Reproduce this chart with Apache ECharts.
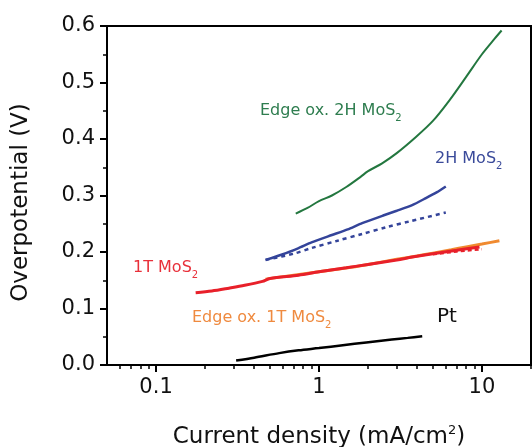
<!DOCTYPE html>
<html>
<head>
<meta charset="utf-8">
<script src="https://cdn.jsdelivr.net/npm/echarts@6/dist/echarts.min.js"></script>
<style>html,body{margin:0;padding:0;background:#fff}#c{width:532px;height:447px}</style>
</head>
<body>
<div id="c"></div>
<script>
// ---- data (x: current density mA/cm^2, y: overpotential V) ----
const edge2H = [[0.72,0.268],[0.85,0.278],[1.0,0.29],[1.2,0.30],[1.47,0.315],[1.8,0.333],[2.0,0.343],[2.44,0.357],[3.0,0.375],[3.95,0.404],[5.0,0.432],[6.3,0.468],[8.0,0.51],[10.0,0.55],[12.0,0.578],[13.2,0.592]];
const mos2H = [[0.47,0.186],[0.6,0.196],[0.75,0.207],[0.9,0.217],[1.2,0.23],[1.5,0.24],[1.84,0.251],[2.5,0.265],[3.0,0.273],[3.73,0.283],[4.5,0.295],[5.3,0.306],[6.0,0.316]];
const mos2HDash = [[0.47,0.186],[0.7,0.197],[0.9,0.207],[1.3,0.22],[1.84,0.232],[2.6,0.244],[3.7,0.255],[6.0,0.27]];
const edge1T = [[0.47,0.152],[0.7,0.159],[1.0,0.165],[1.5,0.172],[2.0,0.178],[3.0,0.187],[4.0,0.193],[5.0,0.198],[6.5,0.204],[8.0,0.209],[10.0,0.214],[12.8,0.22]];
const mos1T = [[0.175,0.128],[0.22,0.131],[0.28,0.136],[0.35,0.141],[0.45,0.148],[0.5,0.153],[0.75,0.159],[1.0,0.165],[1.47,0.172],[2.0,0.178],[3.0,0.186],[3.73,0.191],[5.0,0.197],[7.0,0.203],[9.66,0.209]];
const mos1TDash = [[5.0,0.196],[7.0,0.201],[10.0,0.205]];
const pt = [[0.31,0.008],[0.4,0.013],[0.57,0.021],[0.75,0.026],[1.0,0.030],[1.4,0.035],[1.95,0.040],[2.8,0.045],[3.5,0.048],[4.3,0.051]];
const xMajor = [0.1, 1, 10];
const xMinor = [0.06,0.07,0.08,0.09,0.2,0.3,0.4,0.5,0.6,0.7,0.8,0.9,2,3,4,5,6,7,8,9,20];

const FONT = '"DejaVu Sans", sans-serif';
const chart = echarts.init(document.getElementById('c'), null, {renderer:'canvas'});

function lbl(txt, color, left, top) {
  return {
    type: 'text', left: left, top: top, z: 100,
    style: {
      text: '{a|' + txt + '}{s|2}',
      rich: {
        a: {fontSize: 16, fontFamily: FONT, fill: color, color: color, lineHeight: 24, verticalAlign: 'middle'},
        s: {fontSize: 10, fontFamily: FONT, fill: color, color: color, lineHeight: 10, verticalAlign: 'bottom'}
      }
    }
  };
}

const option = {
  animation: false,
  backgroundColor: '#fff',
  grid: {left: 107, right: 1, top: 26, bottom: 82, show: true, borderColor: '#000', borderWidth: 2,
    backgroundColor: 'transparent', containLabel: false, outerBoundsMode: 'none'},
  xAxis: [{
    type: 'log', logBase: 10, min: 0.05, max: 20, position: 'bottom',
    name: '{n|Current density (mA/cm}{p|2}{n|)}', nameLocation: 'middle', nameGap: 59,
    nameTextStyle: {rich: {
      n: {fontSize: 23, fontFamily: FONT, color: '#111', lineHeight: 26, verticalAlign: 'middle'},
      p: {fontSize: 13, fontFamily: FONT, color: '#111', lineHeight: 12, verticalAlign: 'top'}
    }},
    axisLine: {show: true, lineStyle: {color: '#000', width: 2}},
    axisTick: {show: true, inside: false, length: 7, lineStyle: {color: '#000', width: 2}, customValues: xMajor},
    axisLabel: {show: true, customValues: xMajor, margin: 12, fontSize: 21, fontFamily: FONT, color: '#111',
      formatter: function (v) { return String(v); }},
    minorTick: {show: false},
    splitLine: {show: false}
  }, {
    type: 'log', logBase: 10, min: 0.05, max: 20, position: 'bottom',
    axisLine: {show: false},
    axisTick: {show: true, inside: false, length: 4, lineStyle: {color: '#000', width: 1.5}, customValues: xMinor},
    axisLabel: {show: false},
    splitLine: {show: false}
  }],
  yAxis: {
    type: 'value', min: 0, max: 0.6, interval: 0.1,
    name: 'Overpotential (V)', nameLocation: 'middle', nameGap: 74, nameRotate: 90,
    nameTextStyle: {fontSize: 23, fontFamily: FONT, color: '#111', padding: [0, 14, 0, 0]},
    axisLine: {show: true, lineStyle: {color: '#000', width: 2}},
    axisTick: {show: true, inside: false, length: 7, lineStyle: {color: '#000', width: 2}},
    minorTick: {show: true, splitNumber: 2, length: 4, lineStyle: {color: '#000', width: 1.5}},
    axisLabel: {margin: 12, fontSize: 21, fontFamily: FONT, color: '#111', formatter: function (v) { return v.toFixed(1); }},
    splitLine: {show: false}, minorSplitLine: {show: false}
  },
  series: [
    {name: 'Edge ox. 2H MoS2', type: 'line', data: edge2H, showSymbol: false, smooth: 0.3, lineStyle: {color: '#23773f', width: 2}},
    {name: '2H MoS2 dashed', type: 'line', data: mos2HDash, showSymbol: false, smooth: 0.3, lineStyle: {color: '#34449a', width: 2.5, type: [4, 4]}},
    {name: '2H MoS2', type: 'line', data: mos2H, showSymbol: false, smooth: 0.2, lineStyle: {color: '#34449a', width: 2.5}},
    {name: 'Edge ox. 1T MoS2', type: 'line', data: edge1T, showSymbol: false, smooth: 0.3, lineStyle: {color: '#f08a30', width: 3}},
    {name: '1T MoS2', type: 'line', data: mos1T, showSymbol: false, smooth: 0.3, lineStyle: {color: '#e8202a', width: 3}},
    {name: '1T MoS2 dashed', type: 'line', data: mos1TDash, showSymbol: false, lineStyle: {color: '#e8202a', width: 2.5, type: [4, 3]}},
    {name: 'Pt', type: 'line', data: pt, showSymbol: false, smooth: 0.3, lineStyle: {color: '#000', width: 2.5}}
  ],
  graphic: [
    lbl('Edge ox. 2H MoS', '#2e7d4f', 260, 103),
    lbl('2H MoS', '#3a4a9a', 435, 151),
    lbl('1T MoS', '#e8303a', 133, 260),
    lbl('Edge ox. 1T MoS', '#ef8a3f', 192, 310),
    {type: 'text', left: 437, top: 307, z: 100, style: {text: 'Pt', fontSize: 20, fontFamily: FONT, fill: '#111'}}
  ]
};
chart.setOption(option);
</script>
</body>
</html>
